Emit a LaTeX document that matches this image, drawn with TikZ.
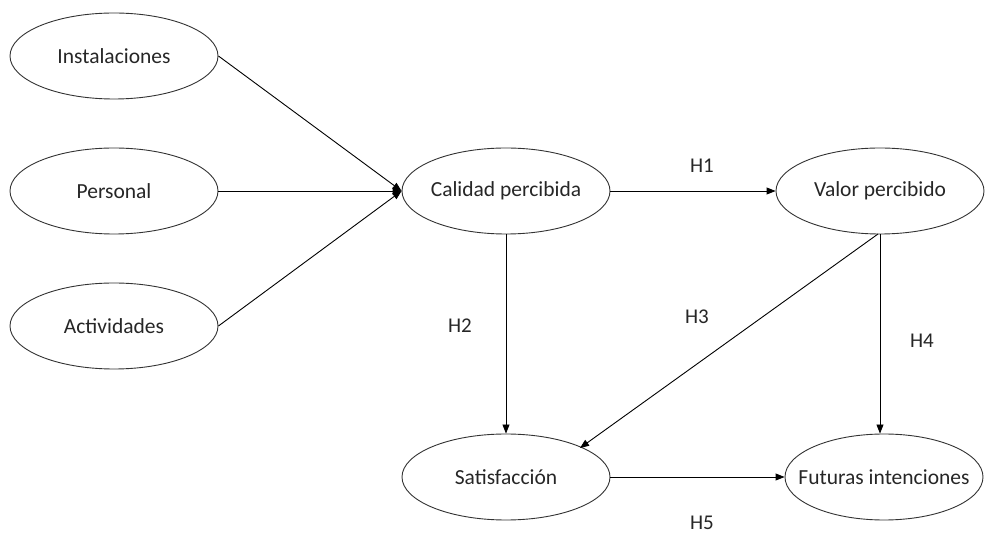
\documentclass[tikz,border=0pt]{standalone}
\usepackage{fontspec}
\setmainfont{Carlito}
\usetikzlibrary{shapes.geometric,arrows.meta}
\begin{document}
\begin{tikzpicture}[x=1pt,y=-1pt,
  oval/.style={ellipse,draw=black!80,line width=0.9pt,inner ysep=0pt,inner xsep=-30pt,
    minimum width=208pt,minimum height=86pt,font=\fontsize{21.5}{25}\selectfont,text=black!85},
  link/.style={draw=black,line width=0.9pt,-{Triangle[length=9pt,width=7pt]}},
  hlabel/.style={font=\fontsize{21}{25}\selectfont,text=black!85}]
\useasboundingbox (0,0) rectangle (986,534);
\node[oval] (ins) at (114,56) {Instalaciones};
\node[oval] (per) at (114,191) {Personal};
\node[oval] (act) at (114,326) {Actividades};
\node[oval] (cal) at (506,191) {Calidad percibida};
\node[oval] (val) at (880,191) {Valor percibido};
\node[oval] (sat) at (506,477) {Satisfacción};
\node[oval,minimum width=198pt] (fut) at (884,477) {Futuras intenciones};
\coordinate (c) at (cal.west);
\draw[link] (ins.east) -- (c);
\draw[link] (per.east) -- (c);
\draw[link] (act.east) -- (c);
\draw[link] (cal.east) -- (val.west);
\draw[link] (cal.south) -- (sat.north);
\coordinate (vs) at (878,234);
\coordinate (st) at (580,448);
\draw[link] (vs) -- (st);
\draw[link] (val.south) -- (fut.north -| val.south);
\draw[link] (sat.east) -- (fut.west);
\node[hlabel] (h1) at (702,166) {H1};
\node[hlabel] (h2) at (460,326) {H2};
\node[hlabel] (h3) at (697,317) {H3};
\node[hlabel] (h4) at (922,341) {H4};
\node[hlabel] (h5) at (702,523) {H5};
\end{tikzpicture}
\end{document}
